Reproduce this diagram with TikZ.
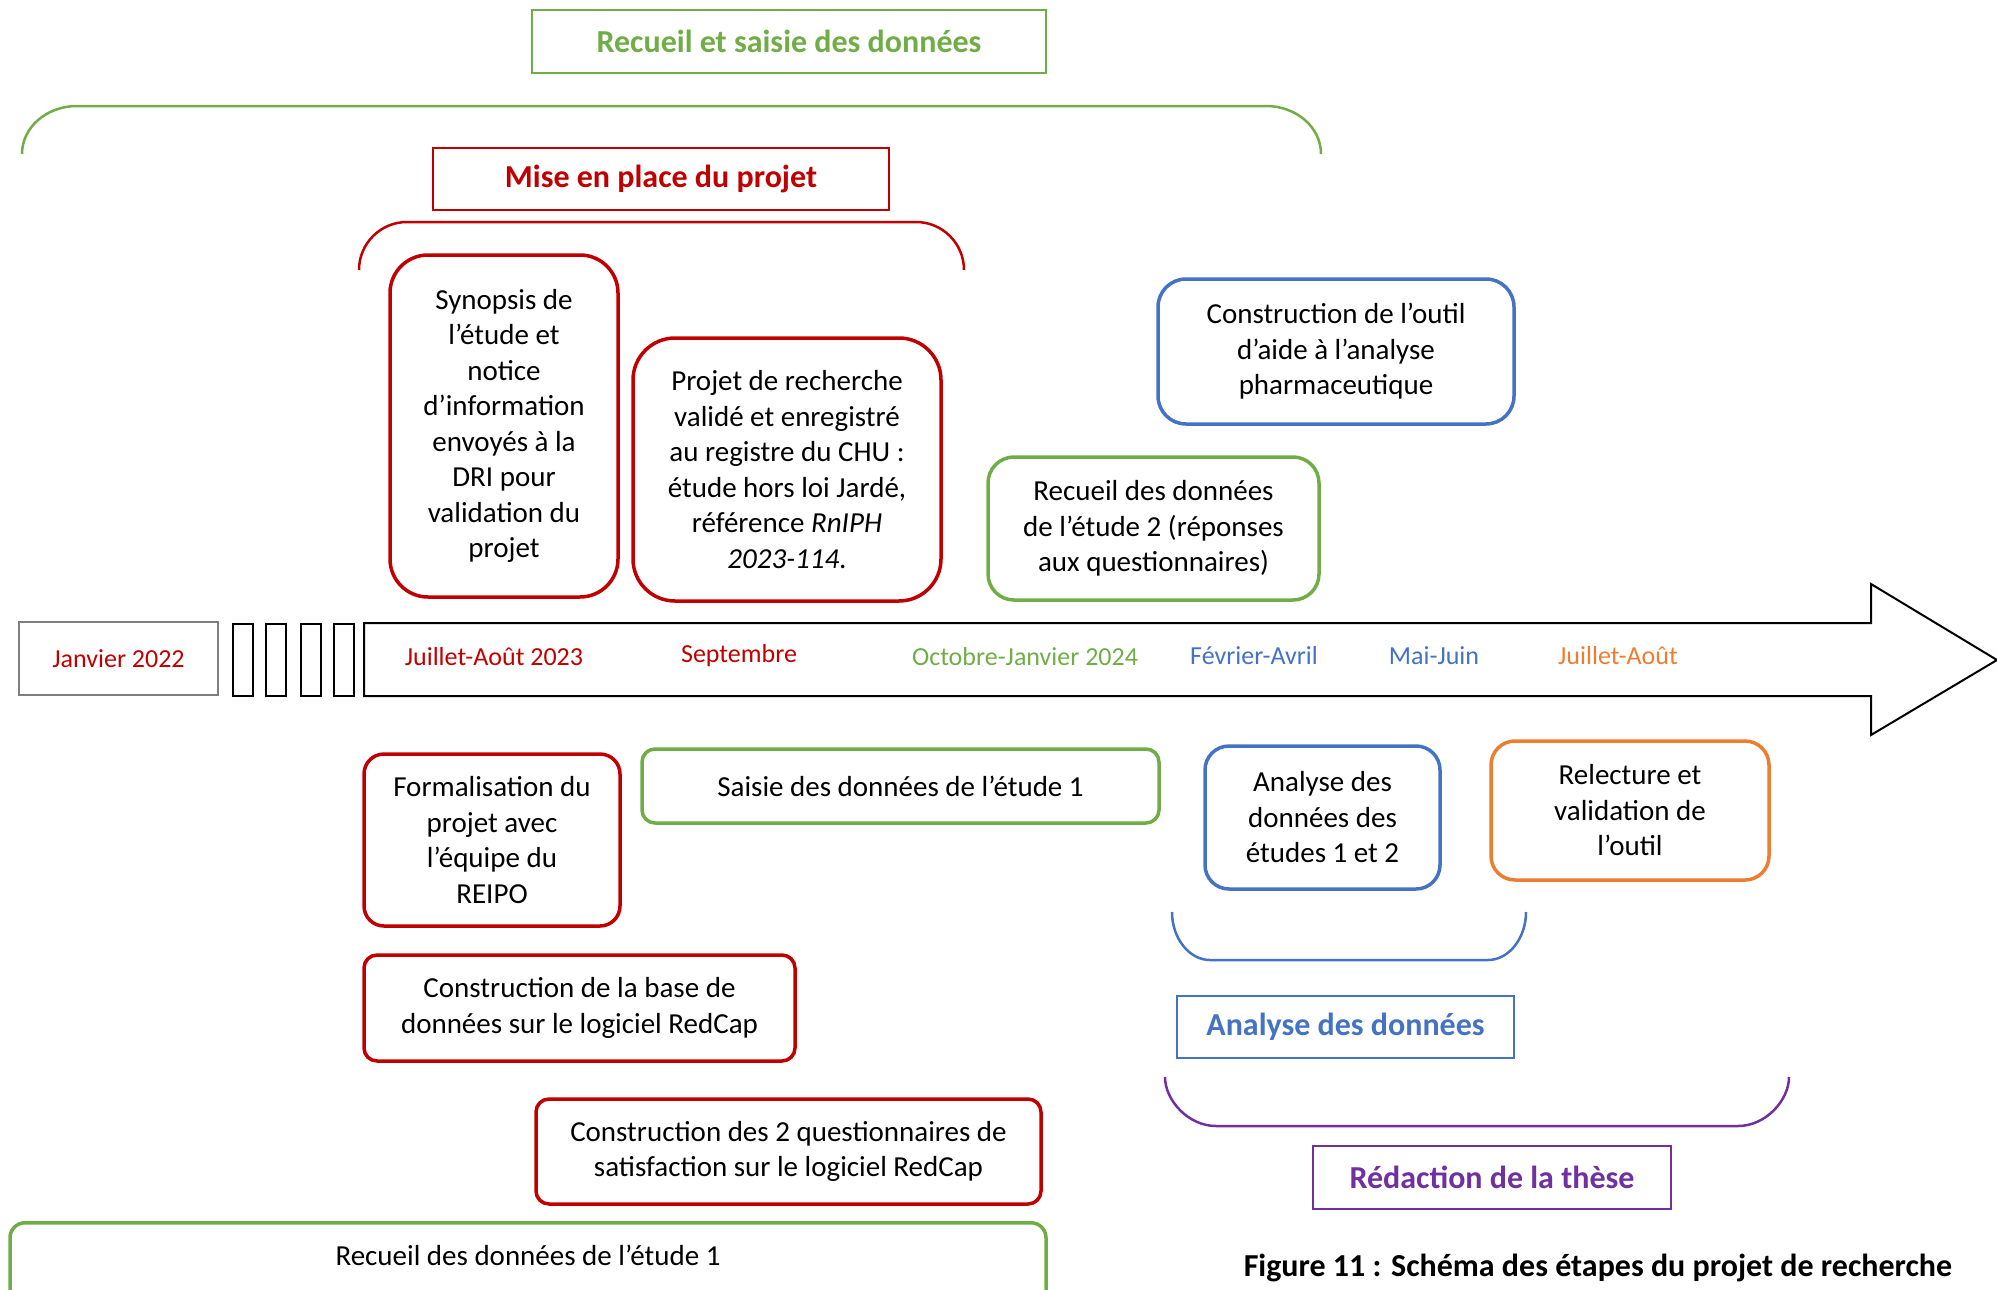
\documentclass[tikz,border=0pt]{standalone}
\usepackage{fontspec}
\setmainfont{Carlito}

\begin{document}
\begin{tikzpicture}[x=1pt,y=-1pt]
  \definecolor{myred}{HTML}{C00000}
  \definecolor{mygreen}{HTML}{70AD47}
  \definecolor{myblue}{HTML}{4472C4}
  \definecolor{myorange}{HTML}{ED7D31}
  \definecolor{mypurple}{HTML}{7030A0}
  \definecolor{mygray}{HTML}{7F7F7F}
  \tikzstyle{every node}=[font=\fontsize{29}{35.5}\selectfont]
  \tikzstyle{stepbox}=[draw, line width=3.5pt, rounded corners=25pt, align=center, inner sep=0pt]
  \tikzstyle{phasetitle}=[draw, line width=2pt, inner sep=0pt, font=\fontsize{32}{38}\selectfont\bfseries]
  \tikzstyle{phasebrace}=[line width=2.5pt]
  \tikzstyle{datelabel}=[font=\fontsize{26}{31}\selectfont]

  \useasboundingbox (0,0) rectangle (1997,1290);

  % phases
  \node[phasetitle, draw=mygreen, text=mygreen, minimum width=514pt, minimum height=63pt] (recsaisie) at (789,41.5) {Recueil et saisie des données};
  \draw[phasebrace, mygreen] (22,154) .. controls (22,127) and (47,106) .. (77,106) -- (1266,106) .. controls (1296,106) and (1321,127) .. (1321,154);
  \node[phasetitle, draw=myred, text=myred, minimum width=456pt, minimum height=62pt] (miseplace) at (661,179) {Mise en place du projet};
  \draw[phasebrace, myred] (359,270) .. controls (359,243.5) and (380.5,222) .. (407,222) -- (916,222) .. controls (942.5,222) and (964,243.5) .. (964,270);

  % upper steps
  \node[stepbox, draw=myred, rounded corners=38pt, minimum width=228pt, minimum height=342pt] (synopsis) at (504,426)
    {Synopsis de\\l’étude et\\notice\\d’information\\envoyés à la\\DRI pour\\validation du\\projet};
  \node[stepbox, draw=myred, rounded corners=42pt, minimum width=308pt, minimum height=263pt] (projet) at (787,469.5)
    {Projet de recherche\\validé et enregistré\\au registre du CHU :\\étude hors loi Jardé,\\référence \textit{RnIPH}\\\textit{2023-114}.};
  \node[stepbox, draw=myblue, rounded corners=28pt, minimum width=356pt, minimum height=145pt] (outil) at (1336,351.5)
    {Construction de l’outil\\d’aide à l’analyse\\pharmaceutique};
  \node[stepbox, draw=mygreen, rounded corners=26pt, minimum width=331pt, minimum height=143pt] (recueil2) at (1153.5,528.5)
    {Recueil des données\\de l’étude 2 (réponses\\aux questionnaires)};

  % timeline
  \node[draw=mygray, line width=2pt, text=myred, datelabel, minimum width=199pt, minimum height=73pt, inner sep=0pt] (janvier) at (118.5,658.5) {Janvier 2022};
  \draw[line width=2.5pt] (233,624) rectangle (253,696);
  \draw[line width=2.5pt] (266,624) rectangle (286,696);
  \draw[line width=2.5pt] (301,624) rectangle (321,696);
  \draw[line width=2.5pt] (334,624) rectangle (354,696);
  \draw[line width=2pt, line join=miter] (364,623) -- (1871,623) -- (1871,584) -- (1997,660) -- (1871,735) -- (1871,696) -- (364,696) -- cycle;
  \node[datelabel, text=myred] (juil23) at (494,657) {Juillet-Août 2023};
  \node[datelabel, text=myred] (sept) at (739,656) {Septembre};
  \node[datelabel, text=mygreen] (octjan) at (1025,657) {Octobre-Janvier 2024};
  \node[datelabel, text=myblue] (fevavr) at (1254,656) {Février-Avril};
  \node[datelabel, text=myblue] (maijuin) at (1434,656) {Mai-Juin};
  \node[datelabel, text=myorange] (juilaout) at (1618,656) {Juillet-Août};

  % lower steps
  \node[stepbox, draw=myred, rounded corners=20pt, minimum width=256pt, minimum height=172pt] (formal) at (492,840)
    {Formalisation du\\projet avec\\l’équipe du\\REIPO};
  \node[stepbox, draw=mygreen, rounded corners=13pt, minimum width=517pt, minimum height=74pt] (saisie1) at (900.5,786)
    {Saisie des données de l’étude 1};
  \node[stepbox, draw=myblue, rounded corners=24pt, minimum width=235pt, minimum height=143pt] (analyse) at (1322.5,817.5)
    {Analyse des\\données des\\études 1 et 2};
  \node[stepbox, draw=myorange, rounded corners=24pt, minimum width=278pt, minimum height=139pt] (relecture) at (1630,810.5)
    {Relecture et\\validation de\\l’outil};
  \node[stepbox, draw=myred, rounded corners=13pt, minimum width=431pt, minimum height=106pt] (basedonnees) at (579.5,1008)
    {Construction de la base de\\données sur le logiciel RedCap};
  \node[stepbox, draw=myred, rounded corners=13pt, minimum width=505pt, minimum height=105pt] (questionnaires) at (788.5,1151.5)
    {Construction des 2 questionnaires de\\satisfaction sur le logiciel RedCap};
  \node[stepbox, draw=mygreen, rounded corners=15pt, anchor=north, minimum width=1036pt, text height=43pt, text depth=70pt] (recueil1) at (528,1221)
    {Recueil des données de l’étude 1};

  % analyse et redaction
  \draw[phasebrace, myblue] (1172,912) .. controls (1172,938) and (1189,960) .. (1210,960) -- (1488,960) .. controls (1509,960) and (1526,938) .. (1526,912);
  \node[phasetitle, draw=myblue, text=myblue, minimum width=337pt, minimum height=62pt] (analysetitle) at (1345.5,1027) {Analyse des données};
  \draw[phasebrace, mypurple] (1165,1077) .. controls (1165,1100) and (1188,1126) .. (1216,1126) -- (1738,1126) .. controls (1766,1126) and (1789,1100) .. (1789,1077);
  \node[phasetitle, draw=mypurple, text=mypurple, minimum width=358pt, minimum height=63pt] (these) at (1492,1177.5) {Rédaction de la thèse};

  \node[font=\fontsize{32}{38}\selectfont\bfseries] (caption) at (1598,1268) {Figure 11 : Schéma des étapes du projet de recherche};
\end{tikzpicture}
\end{document}
